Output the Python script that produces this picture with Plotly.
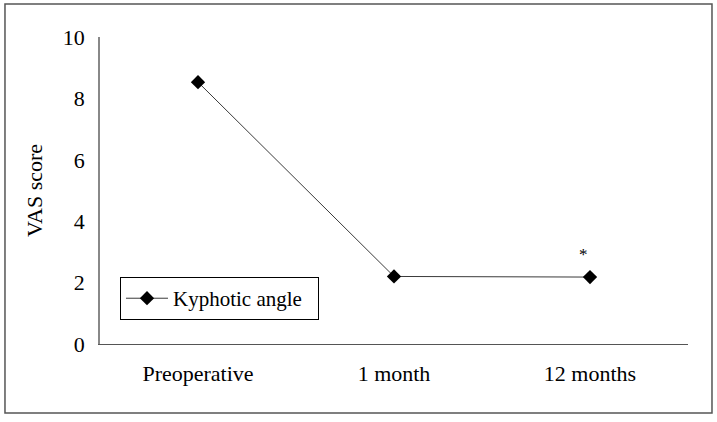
import plotly.graph_objects as go

# Data
timepoints = ["Preoperative", "1 month", "12 months"]
vas_scores = [8.53, 2.2, 2.18]
series_name = "Kyphotic angle"
y_ticks = [0, 2, 4, 6, 8, 10]

font_family = "Liberation Serif, Times New Roman, serif"

fig = go.Figure()
fig.add_trace(go.Scatter(
    x=timepoints,
    y=vas_scores,
    name=series_name + "\u00a0\u00a0",
    mode="lines+markers",
    line=dict(color="#3a3a3a", width=1),
    marker=dict(symbol="diamond", size=11, color="black"),
    showlegend=True,
))

# significance mark over the last point
fig.add_annotation(x=timepoints[2], y=vas_scores[2] + 0.75, text="*",
                   showarrow=False, xshift=-7,
                   font=dict(family=font_family, size=17, color="black"))

# outer frame round the whole figure
fig.add_shape(type="rect", xref="paper", yref="paper",
              x0=-0.1616, x1=1.0408, y0=-0.2248, y1=1.1075,
              line=dict(color="#555555", width=1.5))

fig.update_xaxes(
    type="category",
    range=[-0.5, 2.5],
    showline=True, linecolor="#555555", linewidth=1,
    showgrid=False, zeroline=False, ticks="",
    tickfont=dict(family=font_family, size=22, color="black"),
    ticklabelstandoff=10,
)
fig.update_yaxes(
    range=[0, 10],
    tickvals=y_ticks,
    showline=True, linecolor="#888888", linewidth=1.5,
    showgrid=False, zeroline=False, ticks="",
    tickfont=dict(family=font_family, size=22, color="black"),
    ticklabelstandoff=9,
    title=dict(text="VAS score", standoff=14,
               font=dict(family=font_family, size=22, color="black")),
)
fig.update_layout(
    width=717, height=422,
    margin=dict(l=100, r=29, t=37, b=78),
    plot_bgcolor="white", paper_bgcolor="white",
    legend=dict(x=0.034, y=0.218, xanchor="left", yanchor="top",
                bordercolor="black", borderwidth=1, bgcolor="white",
                itemwidth=42,
                font=dict(family=font_family, size=21, color="black")),
)
fig.write_html("out.html", config={"displayModeBar": False},
               post_script="document.body.style.margin='0';")
